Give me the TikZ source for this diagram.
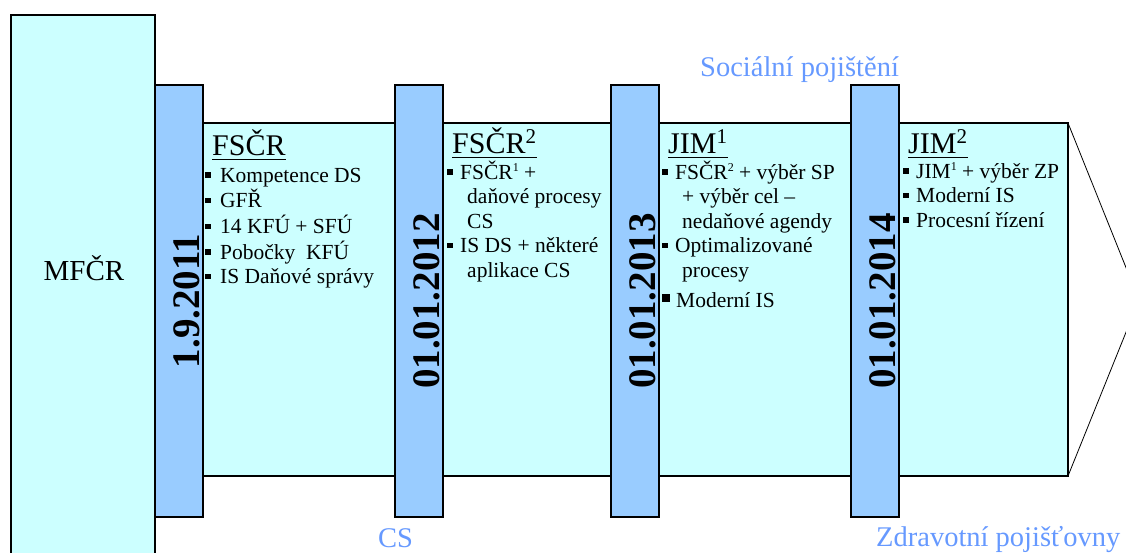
\documentclass[tikz,border=0pt]{standalone}
\usepackage{fontspec}
\setmainfont{Liberation Serif}
\usetikzlibrary{positioning}

\definecolor{bandcyan}{HTML}{CCFFFF}
\definecolor{barblue}{HTML}{99CCFF}
\definecolor{labelblue}{HTML}{6699FF}

% bullets, indent, small superscripts and underlined headings
\newcommand{\bul}[1][13pt]{\makebox[#1][l]{\rule[4.5pt]{5.5pt}{5.5pt}}}
\newcommand{\bigbul}{\makebox[14pt][l]{\rule[6pt]{8pt}{8pt}}}
\newcommand{\ind}{\hspace*{20pt}}
\newcommand{\sups}[1]{\raisebox{8pt}{\fontsize{12}{12}\selectfont #1}}
\newcommand{\hd}[1]{\setbox0\hbox{#1}\rlap{\rule[-5pt]{\wd0}{1.4pt}}\box0}

\tikzset{
  datebar/.style={draw, line width=1.2pt, fill=barblue, minimum width=48pt,
    minimum height=432pt, inner sep=0pt},
  datetext/.style={rotate=90, inner sep=0pt,
    font=\fontsize{39}{39}\selectfont\bfseries},
  heading/.style={anchor=base west, inner sep=0pt,
    font=\fontsize{30}{30}\selectfont},
  items/.style={anchor=base west, inner sep=0pt,
    font=\fontsize{21.5}{24.5}\selectfont},
  agency/.style={anchor=base west, inner sep=0pt, text=labelblue,
    font=\fontsize{28.5}{28.5}\selectfont},
}

\begin{document}
\begin{tikzpicture}[x=1pt,y=-1pt]
\useasboundingbox (0,0) rectangle (1126,552);
\clip (0,0) rectangle (1126,552);

% MF box
\draw[line width=1.2pt, fill=bandcyan] (11,15) rectangle (155,560);
\node[anchor=base, inner sep=0pt, font=\fontsize{29}{29}\selectfont] (mf) at (84,280) {MFČR};

% arrow band
\draw[line width=1.6pt, fill=bandcyan] (155,123) rectangle (1068,476);
\coordinate (tip) at (1139,300);
\draw[line width=0.8pt] (1068,123) -- (tip) -- (1068,476);

% date bars
\node[datebar] (b1) at (179,301) {};
\node[datebar] (b2) at (419,301) {};
\node[datebar] (b3) at (635,301) {};
\node[datebar] (b4) at (875,301) {};
\node[datetext] (d1) at ([xshift=8pt]b1.center) {1.9.2011};
\node[datetext] (d2) at ([xshift=8pt]b2.center) {01.01.2012};
\node[datetext] (d3) at ([xshift=8pt]b3.center) {01.01.2013};
\node[datetext] (d4) at ([xshift=8pt]b4.center) {01.01.2014};

% stages
\node[heading] (h1) at (212,155) {\hd{FSČR}};
\node[items] (l1) at (205,182) {\begin{tabular}[t]{@{}l@{}}
  \bul[15pt]Kompetence DS\\
  \bul[15pt]GFŘ\\
  \bul[15pt]14 KFÚ + SFÚ\\
  \bul[15pt]Pobočky\ \ KFÚ\\
  \bul[15pt]IS Daňové správy
\end{tabular}};

\node[heading] (h2) at (452,153) {\hd{FSČR\textsuperscript{2}}};
\node[items] (l2) at (447,179) {\begin{tabular}[t]{@{}l@{}}
  \bul FSČR\sups{1} +\\
  \ind daňové procesy\\
  \ind CS\\
  \bul IS DS + některé\\
  \ind aplikace CS
\end{tabular}};

\node[heading] (h3) at (668,153) {\hd{JIM\textsuperscript{1}}};
\node[items] (l3) at (662,179) {\begin{tabular}[t]{@{}l@{}}
  \bul FSČR\sups{2} + výběr SP\\
  \ind + výběr cel –\\
  \ind nedaňové agendy\\
  \bul Optimalizované\\
  \ind procesy\\[6pt]
  \bigbul Moderní IS
\end{tabular}};

\node[heading] (h4) at (908,153) {\hd{JIM\textsuperscript{2}}};
\node[items] (l4) at (903,178) {\begin{tabular}[t]{@{}l@{}}
  \bul JIM\sups{1} + výběr ZP\\
  \bul Moderní IS\\
  \bul Procesní řízení
\end{tabular}};

% agencies
\node[agency] (sp) at (700,76) {Sociální pojištění};
\node[agency] (cs) at (378,547) {CS};
\node[agency] (zp) at (876,546) {Zdravotní pojišťovny};
\end{tikzpicture}
\end{document}
